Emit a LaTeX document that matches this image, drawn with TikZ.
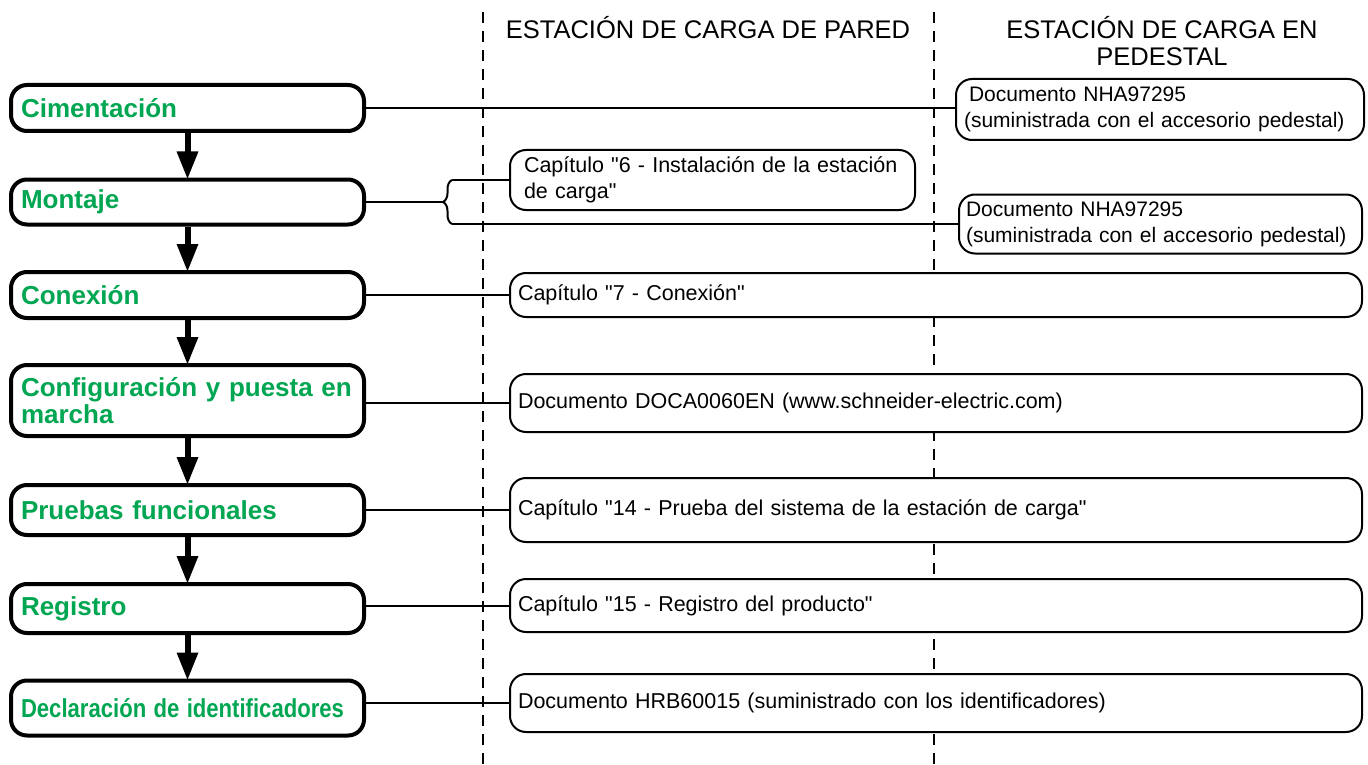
\documentclass[tikz,border=0pt]{standalone}
\usepackage{fontspec}
\setmainfont{Liberation Sans}
\usetikzlibrary{arrows.meta,decorations.pathreplacing}
\definecolor{stepgreen}{RGB}{0,166,81}

\begin{document}
\begin{tikzpicture}[x=1pt, y=-1pt,
    stepbox/.style={draw, line width=4pt, rounded corners=16pt, fill=white,
      text width=333pt, inner xsep=10pt, inner ysep=0pt, align=left, text=stepgreen,
      font=\fontsize{26}{27}\selectfont\bfseries},
    refbox/.style={draw, line width=2pt, rounded corners=16pt, fill=white,
      inner xsep=8pt, inner ysep=0pt, align=left,
      font=\fontsize{21.5}{26}\selectfont},
    docbox/.style={refbox, font=\fontsize{21}{26}\selectfont},
    wide/.style={refbox, text width=836pt},
    header/.style={align=center, inner sep=0pt, font=\fontsize{25.5}{27.5}\selectfont},
    flow/.style={line width=6pt, -{Triangle[width=20pt, length=28pt]}},
    link/.style={line width=2pt},
    divider/.style={line width=2.5pt, dash pattern=on 11pt off 8pt}]

      \useasboundingbox (0, 0) rectangle (1368, 765);

      \draw [divider] (483, 12) -- (483, 765);
      \draw [divider] (934, 12) -- (934, 765);

      \node [header] (hpared) at (708, 28) {ESTACIÓN DE CARGA DE PARED};
      \node [header] (hpedestal) at (1162, 41) {ESTACIÓN DE CARGA EN\\PEDESTAL};

      \node [stepbox, minimum height=46pt] (cim) at (187.5, 108) {Cimentación};
      \node [stepbox, minimum height=45pt] (mon) at (187.5, 202) {Montaje};
      \node [stepbox, minimum height=46pt] (con) at (187.5, 295) {Conexión};
      \node [stepbox, minimum height=71pt] (cfg) at (187.5, 400.5) {Configuración y puesta en\\marcha};
      \node [stepbox, minimum height=50pt] (pru) at (187.5, 510) {Pruebas funcionales};
      \node [stepbox, minimum height=49pt] (reg) at (187.5, 608.5) {Registro};
      \node [stepbox, minimum height=55pt] (dec) at (187.5, 708) {\scalebox{0.85}[1]{Declaración de identificadores}};

      \node [docbox, text width=392pt, minimum height=61pt] (nhaA) at (1160, 109.5)
        {\hspace*{5pt}Documento NHA97295\\(suministrada con el accesorio pedestal)};
      \node [refbox, text width=377pt, inner xsep=14pt, minimum height=60pt] (cap6) at (712.5, 180)
        {Capítulo \textquotedbl6 - Instalación de la estación\\de carga\textquotedbl};
      \node [docbox, text width=389pt, inner xsep=7pt, minimum height=59pt] (nhaB) at (1160.5, 224)
        {Documento NHA97295\\(suministrada con el accesorio pedestal)};
      \node [wide, minimum height=44pt] (capcon) at (936, 295) {Capítulo \textquotedbl7 - Conexión\textquotedbl};
      \node [wide, minimum height=58pt] (doca) at (936, 403) {Documento DOCA0060EN (www.schneider-electric.com)};
      \node [wide, minimum height=64pt] (prueba) at (936, 510) {Capítulo \textquotedbl14 - Prueba del sistema de la estación de carga\textquotedbl};
      \node [wide, minimum height=53pt] (regp) at (936, 605.5) {Capítulo \textquotedbl15 - Registro del producto\textquotedbl};
      \node [wide, minimum height=58pt] (hrb) at (936, 703) {Documento HRB60015 (suministrado con los identificadores)};

      \foreach \a/\b in {cim/mon, mon/con, con/cfg, cfg/pru, pru/reg, reg/dec}
        \draw [flow] (\a.south) -- ([yshift=-2pt]\b.north);

      \draw [link] (cim.east) -- (cim.east -| nhaA.west);

      \coordinate (braceTop) at (452, 180);
      \coordinate (braceBot) at (452, 224);
      \coordinate (braceTip) at (443, 202);
      \draw [link] (mon.east) -- (braceTip);
      \draw [link, decorate, decoration={brace, amplitude=9pt}] (braceBot) -- (braceTop);
      \draw [link] (braceTop) -- (cap6.west);
      \draw [link] (braceBot) -- (nhaB.west);

      \foreach \s/\r in {con/capcon, cfg/doca, pru/prueba, reg/regp, dec/hrb}
        \draw [link] (\r.west -| \s.east) -- (\r.west);
    \end{tikzpicture}
\end{document}
